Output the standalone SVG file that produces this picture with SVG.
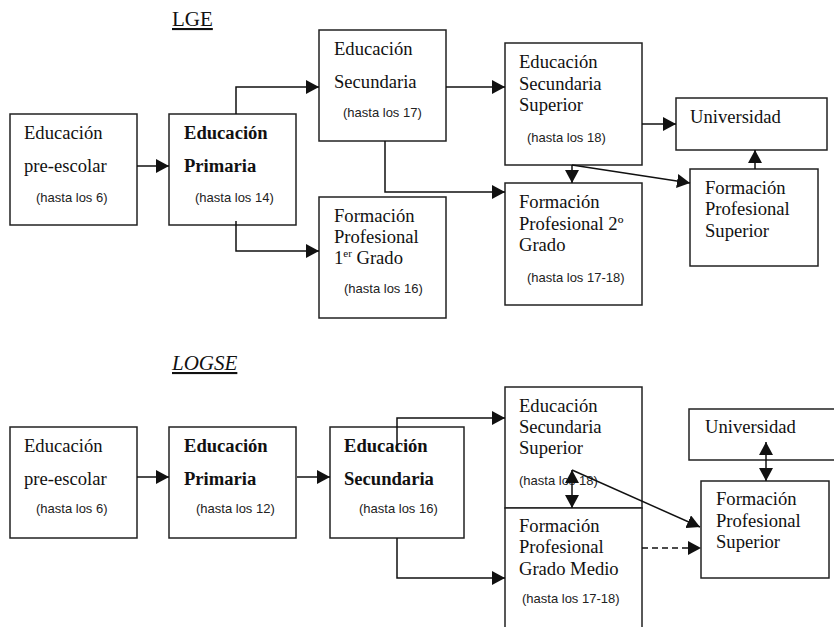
<svg xmlns="http://www.w3.org/2000/svg" width="834" height="627" viewBox="0 0 834 627">
<style>
.box{fill:#fff;stroke:#222;stroke-width:1.5}
.t{font-family:"Liberation Serif","Times New Roman",serif;font-size:18.6px;fill:#111}
.b{font-family:"Liberation Serif","Times New Roman",serif;font-size:18.6px;font-weight:bold;fill:#111}
.s{font-family:"Liberation Sans",Arial,sans-serif;font-size:13px;fill:#222}
.h{font-family:"Liberation Serif","Times New Roman",serif;font-size:21px;fill:#111;text-decoration:underline}
.c{fill:none;stroke:#111;stroke-width:1.5}
</style>
<defs>
<marker id="ah" markerUnits="userSpaceOnUse" markerWidth="13" markerHeight="14" refX="13" refY="7" orient="auto-start-reverse">
<path d="M0,0 L13,7 L0,14 z" fill="#111"/>
</marker>
</defs>
<text class="h" x="172" y="26">LGE</text>
<text class="h" x="172" y="370" font-style="italic">LOGSE</text>

<g id="lge-preescolar"><rect class="box" x="10" y="114" width="127" height="111"/>
<text class="t" x="24" y="139">Educación</text><text class="t" x="24" y="172">pre-escolar</text><text class="s" x="36" y="202">(hasta los 6)</text></g>
<g id="lge-primaria"><rect class="box" x="169" y="114" width="127" height="111"/>
<text class="b" x="184" y="139">Educación</text><text class="b" x="184" y="172">Primaria</text><text class="s" x="195" y="202">(hasta los 14)</text></g>
<g id="lge-secundaria"><rect class="box" x="319" y="30" width="127" height="111"/>
<text class="t" x="334" y="55">Educación</text><text class="t" x="334" y="88">Secundaria</text><text class="s" x="343" y="117">(hasta los 17)</text></g>
<g id="lge-fp1"><rect class="box" x="319" y="197" width="127" height="121"/>
<text class="t" x="334" y="222">Formación</text><text class="t" x="334" y="243">Profesional</text><text class="t" x="334" y="264">1<tspan font-size="11" dy="-7">er</tspan><tspan dy="7"> Grado</tspan></text><text class="s" x="344" y="293">(hasta los 16)</text></g>
<g id="lge-ess"><rect class="box" x="505" y="43" width="137" height="122"/>
<text class="t" x="519" y="68">Educación</text><text class="t" x="519" y="90">Secundaria</text><text class="t" x="519" y="111">Superior</text><text class="s" x="527" y="142">(hasta los 18)</text></g>
<g id="lge-universidad"><rect class="box" x="676" y="98" width="151" height="52"/>
<text class="t" x="690" y="123">Universidad</text></g>
<g id="lge-fp2"><rect class="box" x="505" y="183" width="137" height="122"/>
<text class="t" x="519" y="208">Formación</text><text class="t" x="519" y="230">Profesional 2º</text><text class="t" x="519" y="251">Grado</text><text class="s" x="527" y="282">(hasta los 17-18)</text></g>
<g id="lge-fps"><rect class="box" x="690" y="169" width="128" height="97"/>
<text class="t" x="705" y="194">Formación</text><text class="t" x="705" y="215">Profesional</text><text class="t" x="705" y="237">Superior</text></g>

<g id="logse-preescolar"><rect class="box" x="10" y="427" width="127" height="111"/>
<text class="t" x="24" y="452">Educación</text><text class="t" x="24" y="485">pre-escolar</text><text class="s" x="36" y="513">(hasta los 6)</text></g>
<g id="logse-primaria"><rect class="box" x="169" y="427" width="127" height="111"/>
<text class="b" x="184" y="452">Educación</text><text class="b" x="184" y="485">Primaria</text><text class="s" x="196" y="513">(hasta los 12)</text></g>
<g id="logse-secundaria"><rect class="box" x="330" y="427" width="134" height="111"/>
<text class="b" x="344" y="452">Educación</text><text class="b" x="344" y="485">Secundaria</text><text class="s" x="359" y="513">(hasta los 16)</text></g>
<g id="logse-ess"><rect class="box" x="505" y="387" width="137" height="121"/>
<text class="t" x="519" y="412">Educación</text><text class="t" x="519" y="433">Secundaria</text><text class="t" x="519" y="454">Superior</text><text class="s" x="519" y="485">(hasta los 18)</text></g>
<g id="logse-fpgm"><rect class="box" x="505" y="508" width="137" height="130"/>
<text class="t" x="519" y="532">Formación</text><text class="t" x="519" y="553">Profesional</text><text class="t" x="519" y="575">Grado Medio</text><text class="s" x="522" y="603">(hasta los 17-18)</text></g>
<g id="logse-universidad"><rect class="box" x="689" y="409" width="150" height="51"/>
<text class="t" x="705" y="433">Universidad</text></g>
<g id="logse-fps"><rect class="box" x="701" y="481" width="128" height="97"/>
<text class="t" x="716" y="505">Formación</text><text class="t" x="716" y="527">Profesional</text><text class="t" x="716" y="548">Superior</text></g>

<g id="connectors">
<path class="c" d="M137,166 H169" marker-end="url(#ah)"/>
<path class="c" d="M236,114 V87 H319" marker-end="url(#ah)"/>
<path class="c" d="M236,221 V251 H319" marker-end="url(#ah)"/>
<path class="c" d="M385,141 V192 H505" marker-end="url(#ah)"/>
<path class="c" d="M446,87 H505" marker-end="url(#ah)"/>
<path class="c" d="M642,124 H676" marker-end="url(#ah)"/>
<path class="c" d="M572,165 V183" marker-end="url(#ah)"/>
<path class="c" d="M572,165 L690,183" marker-end="url(#ah)"/>
<path class="c" d="M755,169 V150" marker-end="url(#ah)"/>

<path class="c" d="M137,477 H169" marker-end="url(#ah)"/>
<path class="c" d="M297,477 H330" marker-end="url(#ah)"/>
<path class="c" d="M397,452 V418 H505" marker-end="url(#ah)"/>
<path class="c" d="M397,538 V578 H505" marker-end="url(#ah)"/>
<path class="c" d="M572,470 V508" marker-start="url(#ah)" marker-end="url(#ah)"/>
<path class="c" d="M572,470 L700,527" marker-end="url(#ah)"/>
<path class="c" d="M766,442 V481" marker-start="url(#ah)" marker-end="url(#ah)"/>
<path class="c" d="M642,548 H701" stroke-dasharray="6,4" marker-end="url(#ah)"/>
</g>
</svg>
